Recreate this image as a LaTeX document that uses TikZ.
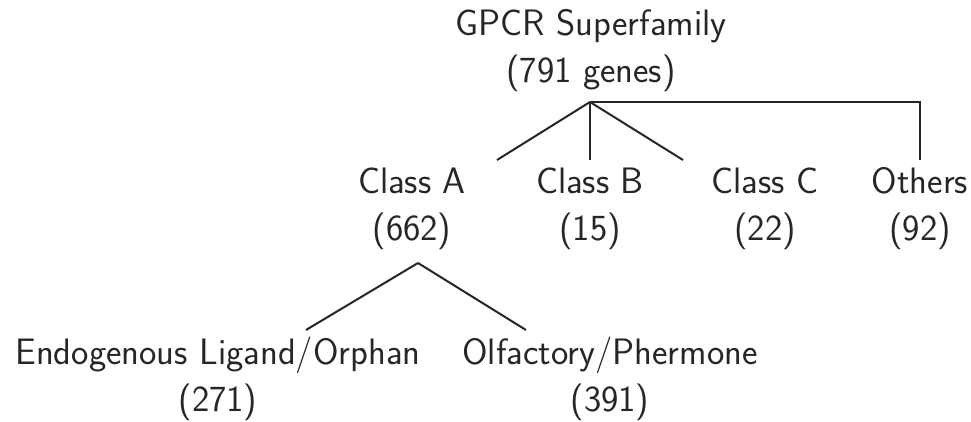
\documentclass[tikz,border=0pt]{standalone}
\usepackage{tikz}

\begin{document}
\begin{tikzpicture}[x=0.5pt, y=-0.5pt,
    family/.style={align=center, inner sep=0pt, text=black!85,
        font=\sffamily\fontsize{18.4}{23.5}\selectfont},
    branch/.style={draw=black!85, line width=1pt}]
    \useasboundingbox (0,0) rectangle (971,422);
    % superfamily and its classes
    \node[family] (root) at (591,51) {GPCR Superfamily\\(791 genes)};
    \node[family] (classA) at (412,209) {Class A\\(662)};
    \node[family] (classB) at (590,209) {Class B\\(15)};
    \node[family] (classC) at (765,209) {Class C\\(22)};
    \node[family] (others) at (920,209) {Others\\(92)};
    % subgroups of class A
    \node[family] (endo) at (218,379) {Endogenous Ligand/Orphan\\(271)};
    \node[family] (olfa) at (610,379) {Olfactory/Phermone\\(391)};
    % forks and branch ends
    \coordinate (rootfork) at (590,102);
    \coordinate (toA) at (497,160);
    \coordinate (toB) at (590,160);
    \coordinate (toC) at (683,160);
    \coordinate (toO) at (920,160);
    \coordinate (afork) at (418,263);
    \coordinate (toEndo) at (306,330);
    \coordinate (toOlfa) at (526,330);
    \draw[branch] (rootfork) -- (toA);
    \draw[branch] (rootfork) -- (toB);
    \draw[branch] (rootfork) -- (toC);
    \draw[branch] (rootfork) -| (toO);
    \draw[branch] (afork) -- (toEndo);
    \draw[branch] (afork) -- (toOlfa);
\end{tikzpicture}
\end{document}
